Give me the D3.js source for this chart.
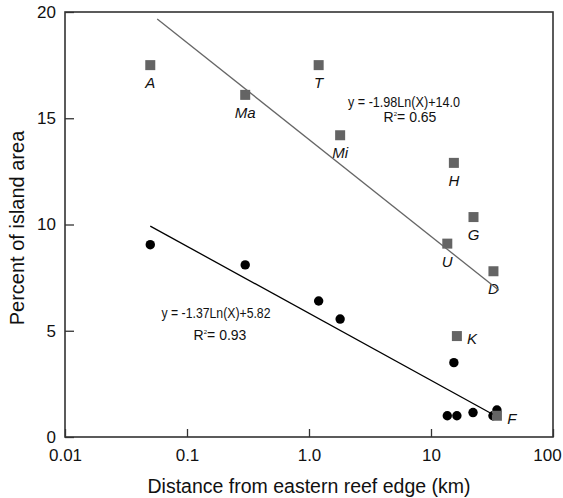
<!DOCTYPE html>
<html>
<head>
<meta charset="utf-8">
<script src="https://cdn.jsdelivr.net/npm/d3@7"></script>
<style>
  body { margin: 0; background: #fff; }
  svg { display: block; font-family: "Liberation Sans", Arial, sans-serif; }
</style>
</head>
<body>
<div id="chart"></div>
<script>
// Islands (grey squares): distance from eastern reef edge (km) vs percent of island area
const islandNames = ["A", "Ma", "T", "Mi", "H", "G", "U", "D", "K", "F"];
const islandDist = [0.05, 0.30, 1.2, 1.8, 15.4, 22.3, 13.6, 32.5, 16.3, 34.7];
const islandPct = [17.5, 16.1, 17.5, 14.2, 12.9, 10.35, 9.1, 7.8, 4.75, 1.0];

// Second series (black circles)
const dotDist = [0.05, 0.30, 1.2, 1.8, 15.4, 13.6, 16.3, 22.1, 32.2, 34.7];
const dotPct = [9.05, 8.1, 6.4, 5.55, 3.5, 1.0, 1.0, 1.15, 1.0, 1.27];

// Fitted logarithmic trends shown on the chart: y = slope*ln(x) + intercept
const trendSlope = [-1.98, -1.37];
const trendIntercept = [14.0, 5.82];
const trendRange = [[0.057, 36], [0.05, 32]];
const trendLabel = ["y = -1.98Ln(X)+14.0", "y = -1.37Ln(X)+5.82"];
const trendR2 = ["0.65", "0.93"];

const xTicks = [0.01, 0.1, 1, 10, 100];
const xTickLabels = ["0.01", "0.1", "1.0", "10", "100"];
const yTicks = [0, 5, 10, 15, 20];

const width = 563, height = 498;
const margin = { top: 12, right: 10, bottom: 61, left: 65 };
const w = width - margin.left - margin.right;
const h = height - margin.top - margin.bottom;

const svg = d3.select("#chart").append("svg")
    .attr("width", width)
    .attr("height", height);

const g = svg.append("g")
    .attr("transform", `translate(${margin.left},${margin.top})`);

const x = d3.scaleLog().domain([0.01, 100]).range([0, w]);
const y = d3.scaleLinear().domain([0, 20]).range([h, 0]);

// axes, ticks point inward
const yAxis = g.append("g")
    .call(d3.axisLeft(y).tickValues(yTicks).tickSize(-9).tickPadding(9));
yAxis.selectAll("text").style("font-size", "17px").attr("fill", "#111");

const xAxis = g.append("g")
    .attr("transform", `translate(0,${h})`)
    .call(d3.axisBottom(x).tickValues(xTicks).tickSize(-8).tickPadding(12)
        .tickFormat((d, i) => xTickLabels[i]));
xAxis.selectAll("text").style("font-size", "17px").attr("fill", "#111");
// last label would run off the page edge, nudge it in
xAxis.selectAll("text").filter(d => d === 100).attr("dx", -6);

g.selectAll(".domain").remove();
g.selectAll(".tick line").attr("stroke", "#333").attr("stroke-width", 1.3);

// frame
g.append("rect")
    .attr("width", w)
    .attr("height", h)
    .attr("fill", "none")
    .attr("stroke", "#333")
    .attr("stroke-width", 1.6);

// axis titles
svg.append("text")
    .attr("x", margin.left + w / 2)
    .attr("y", 493)
    .attr("text-anchor", "middle")
    .style("font-size", "19.5px")
    .attr("fill", "#111")
    .text("Distance from eastern reef edge (km)");

svg.append("text")
    .attr("transform", `translate(24,228) rotate(-90)`)
    .attr("text-anchor", "middle")
    .style("font-size", "20px")
    .attr("fill", "#111")
    .text("Percent of island area");

// circles
g.selectAll("circle.dot")
    .data(dotDist.map((d, i) => ({ x: d, y: dotPct[i] })))
    .enter().append("circle")
    .attr("class", "dot")
    .attr("cx", d => x(d.x))
    .attr("cy", d => y(d.y))
    .attr("r", 4.7)
    .attr("fill", "#000");

// squares
const sq = 10;
const islands = islandNames.map((n, i) => ({ name: n, x: islandDist[i], y: islandPct[i] }));
g.selectAll("rect.island")
    .data(islands)
    .enter().append("rect")
    .attr("class", "island")
    .attr("x", d => x(d.x) - sq / 2)
    .attr("y", d => y(d.y) - sq / 2)
    .attr("width", sq)
    .attr("height", sq)
    .attr("fill", "#646464");

// island labels: below the square, except K and F to the right
const sideLabels = ["K", "F"];
g.selectAll("text.island")
    .data(islands)
    .enter().append("text")
    .attr("class", "island")
    .attr("x", d => x(d.x) + (sideLabels.includes(d.name) ? 15 : 0))
    .attr("y", d => y(d.y) + (sideLabels.includes(d.name) ? 8 : 23))
    .attr("text-anchor", "middle")
    .style("font-size", "15px")
    .style("font-style", "italic")
    .attr("fill", "#111")
    .text(d => d.name);

// trend lines
const trendColors = ["#666", "#000"];
const line = d3.line().x(d => x(d[0])).y(d => y(d[1]));
trendSlope.forEach((s, i) => {
    const pts = trendRange[i].map(v => [v, s * Math.log(v) + trendIntercept[i]]);
    g.append("path")
        .attr("d", line(pts))
        .attr("fill", "none")
        .attr("stroke", trendColors[i])
        .attr("stroke-width", 1.3);
});

// equation annotations
const eqPos = [[404, 107, 410, 122], [216, 318, 220, 340]];
const eqWidth = [112, 109];
trendLabel.forEach((t, i) => {
    const p = eqPos[i];
    svg.append("text")
        .attr("x", p[0])
        .attr("y", p[1])
        .attr("text-anchor", "middle")
        .attr("textLength", eqWidth[i])
        .attr("lengthAdjust", "spacingAndGlyphs")
        .style("font-size", "14px")
        .attr("fill", "#111")
        .text(t);
    const r = svg.append("text")
        .attr("x", p[2])
        .attr("y", p[3])
        .attr("text-anchor", "middle")
        .style("font-size", "14px")
        .attr("fill", "#111");
    r.append("tspan").text("R");
    r.append("tspan").attr("dy", -6).style("font-size", "6px").text("2");
    r.append("tspan").attr("dy", 6).text("= " + trendR2[i]);
});
</script>
</body>
</html>
